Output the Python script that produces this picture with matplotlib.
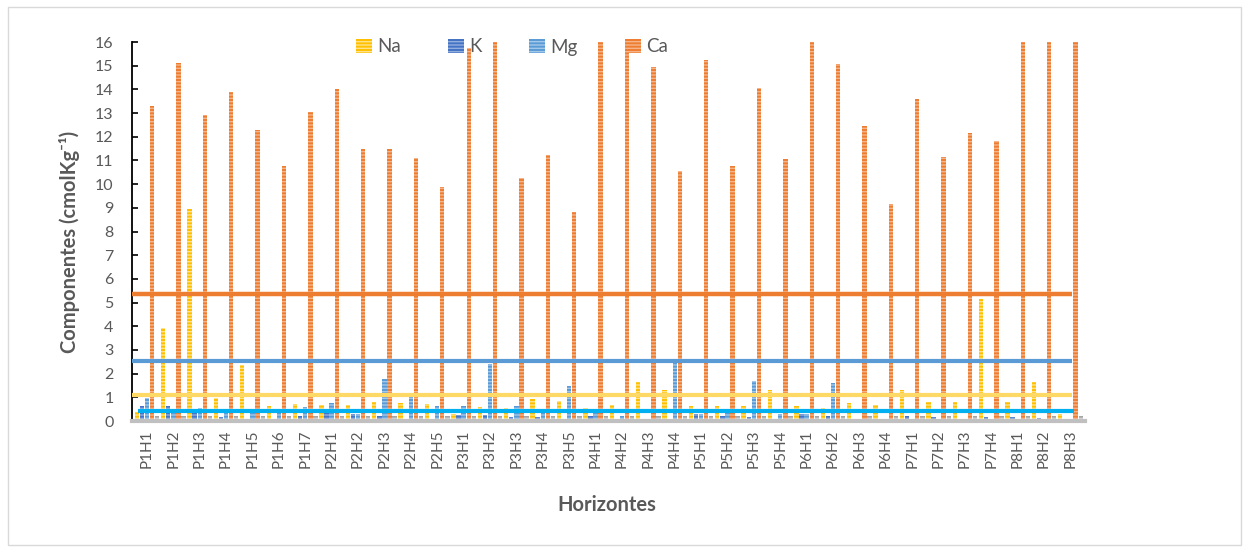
import matplotlib
matplotlib.use("Agg")
import matplotlib.pyplot as plt
import numpy as np
from matplotlib.patches import Rectangle

# Soil horizons (profile P, horizon H)
horizons = ["P1H1", "P1H2", "P1H3", "P1H4", "P1H5", "P1H6", "P1H7",
            "P2H1", "P2H2", "P2H3", "P2H4", "P2H5",
            "P3H1", "P3H2", "P3H3", "P3H4", "P3H5",
            "P4H1", "P4H2", "P4H3", "P4H4",
            "P5H1", "P5H2", "P5H3", "P5H4",
            "P6H1", "P6H2", "P6H3", "P6H4",
            "P7H1", "P7H2", "P7H3", "P7H4",
            "P8H1", "P8H2", "P8H3"]

# Exchangeable cations (cmol kg-1)
na = [0.36, 3.91, 8.95, 0.98, 2.36, 0.63, 0.72, 0.69, 0.66, 0.79, 0.74, 0.72,
      0.30, 0.60, 0.55, 0.91, 0.84, 0.55, 0.69, 1.63, 1.33, 0.63, 0.63, 0.63,
      1.33, 0.64, 0.54, 0.75, 0.67, 1.31, 0.81, 0.80, 5.13, 0.79, 1.63, 0.30]
k = [0.63, 0.63, 0.35, 0.18, 0.10, 0.10, 0.20, 0.35, 0.30, 0.20, 0.10, 0.10,
     0.25, 0.25, 0.15, 0.15, 0.10, 0.20, 0.10, 0.10, 0.10, 0.30, 0.20, 0.18,
     0.10, 0.30, 0.20, 0.10, 0.10, 0.20, 0.15, 0.10, 0.15, 0.15, 0.12, 0.10]
mg = [0.98, 0.32, 0.53, 0.32, 0.32, 0.32, 0.59, 0.74, 0.30, 1.76, 1.00, 0.63,
      0.63, 2.39, 0.64, 0.35, 1.48, 0.35, 0.20, 0.10, 2.43, 0.30, 0.32, 1.70,
      0.30, 0.30, 1.59, 0.05, 0.05, 0.10, 0.05, 0.05, 0.05, 0.05, 0.05, 0.05]
ca = [13.30, 15.12, 12.91, 13.87, 12.28, 10.76, 13.05, 14.03, 11.50, 11.50,
      11.11, 9.86, 15.75, 16.00, 10.24, 11.22, 8.83, 16.00, 16.00, 14.95,
      10.55, 15.23, 10.76, 14.06, 11.04, 16.00, 15.06, 12.46, 9.18, 13.60,
      11.15, 12.17, 11.83, 16.00, 16.00, 16.00]
other = [0.20, 0.20, 0.20, 0.20, 0.20, 0.20, 0.20, 0.20, 0.20, 0.20, 0.20, 0.20,
         0.20, 0.20, 0.20, 0.20, 0.20, 0.20, 0.20, 0.20, 0.20, 0.20, 0.20, 0.20,
         0.20, 0.20, 0.20, 0.20, 0.20, 0.20, 0.20, 0.20, 0.20, 0.20, 0.20, 0.20]

# Reference levels drawn as horizontal lines
level_ca = 5.36
level_mg = 2.52
level_na = 1.08
level_k = 0.41

plt.rcParams["font.family"] = ["Lato", "DejaVu Sans"]
plt.rcParams["hatch.linewidth"] = 1.0

fig = plt.figure(figsize=(12.49, 5.52), dpi=100)
ax = fig.add_axes([0.1054, 0.2373, 0.7633, 0.6866])

x = np.arange(len(horizons))
step = 0.193
width = 0.165

series = [
    ("Na", na, "#FFC000", "#FFE38A"),
    ("K", k, "#4472C4", "#93AEDD"),
    ("Mg", mg, "#5B9BD5", "#A3C8EA"),
    ("Ca", ca, "#ED7D31", "#F6B48A"),
    ("_other", other, "#A5A5A5", "#D2D2D2"),
]
handles = []
for i, (name, vals, fc, hc) in enumerate(series):
    bars = ax.bar(x + (i - 2) * step, vals, width, color=fc, edgecolor=hc,
                  linewidth=0, hatch="-----", label=name, zorder=2)
    if not name.startswith("_"):
        handles.append(bars)

# Horizontal reference lines
ax.plot([-0.58, 35.05], [level_ca, level_ca], color="#ED7D31", lw=3.2, zorder=3,
        solid_capstyle="butt")
ax.plot([-0.58, 35.05], [level_mg, level_mg], color="#5B9BD5", lw=3.0, zorder=3,
        solid_capstyle="butt")
ax.plot([-0.58, 35.05], [level_na, level_na], color="#FFD966", lw=3.0, zorder=3,
        solid_capstyle="butt")
ax.plot([-0.34, 35.13], [level_k, level_k], color="#00B0F0", lw=3.0, zorder=3,
        solid_capstyle="butt")

ax.set_xlim(-0.58, 35.55)
ax.set_ylim(0, 16)
ax.set_yticks(range(0, 17))
ax.set_xticks(x)
ax.set_xticklabels(horizons, rotation=90)

for side in ("top", "right"):
    ax.spines[side].set_visible(False)
ax.spines["left"].set_color("black")
ax.spines["left"].set_linewidth(1.3)
ax.spines["bottom"].set_color("#C0C0C0")
ax.spines["bottom"].set_linewidth(3.0)
ax.spines["bottom"].set_zorder(4)

ax.tick_params(axis="y", direction="in", length=4, width=1.2, color="black",
               labelsize=11.5, labelcolor="#595959", pad=13)
ax.tick_params(axis="x", length=0, labelsize=11, labelcolor="#595959", pad=6)

fig.text(70 / 1249, 1 - 242 / 552, "Componentes (cmolKg\u207b\u00b9)",
         rotation=90, ha="center", va="center", fontsize=14.5,
         fontweight="bold", color="#595959")
fig.text(607 / 1249, 1 - 505 / 552, "Horizontes", ha="center", va="center",
         fontsize=14.5, fontweight="bold", color="#595959")

leg = fig.legend(handles=handles, labels=["Na", "K", "Mg", "Ca"],
                 loc="center", bbox_to_anchor=(512 / 1249, 1 - 47 / 552),
                 ncol=4, frameon=False, fontsize=13.5, handlelength=0.85,
                 handleheight=0.85, handletextpad=0.3, columnspacing=2.5)
for t in leg.get_texts():
    t.set_color("#595959")

# Chart area border
fig.patches.append(Rectangle((8 / 1249, 7 / 552), 1233 / 1249, 538 / 552,
                             transform=fig.transFigure, fill=False,
                             edgecolor="#D9D9D9", linewidth=1.0))

fig.savefig("out.png", dpi=100)
